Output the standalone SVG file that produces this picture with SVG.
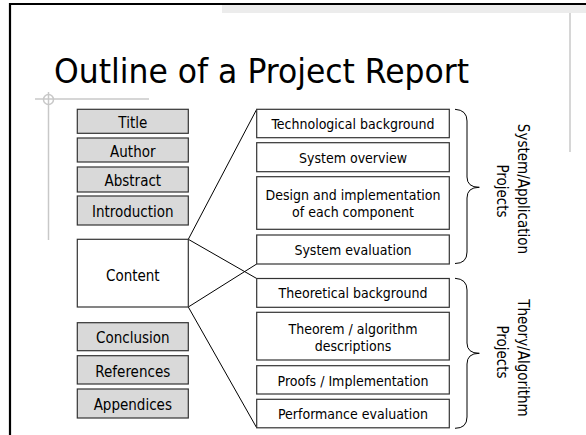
<svg xmlns="http://www.w3.org/2000/svg" width="586" height="435" viewBox="0 0 586 435">
<style>
  text { font-family: "DejaVu Sans Condensed", "DejaVu Sans", "Liberation Sans", sans-serif; fill: #000; }
  .lbl { font-size: 15px; text-anchor: middle; }
  .mid { font-size: 14px; text-anchor: middle; }
  .gray rect { fill: #d9d9d9; stroke: #333; stroke-width: 1.2; }
  .white rect { fill: #fff; stroke: #333; stroke-width: 1.2; }
  .conn line { stroke: #000; stroke-width: 1; }
  .brace { fill: none; stroke: #000; stroke-width: 1; }
  .deco { stroke: #c8c8c8; stroke-width: 1.5; fill: none; }
</style>
<rect x="0" y="0" width="586" height="435" fill="#fff"/>
<!-- slide frame and decoration -->
<rect x="222" y="4" width="364" height="9" fill="#ececec"/>
<line class="deco" x1="570" y1="13" x2="570" y2="152"/>
<line x1="10" y1="3" x2="10" y2="435" stroke="#000" stroke-width="2.2"/>
<line x1="9" y1="4" x2="586" y2="4" stroke="#000" stroke-width="2.2"/>
<line class="deco" x1="35" y1="99" x2="149" y2="99"/>
<line class="deco" x1="48.5" y1="92" x2="48.5" y2="240"/>
<circle class="deco" cx="48.5" cy="99.5" r="5"/>
<text x="54" y="83" font-size="34" textLength="415" lengthAdjust="spacingAndGlyphs">Outline of a Project Report</text>

<g id="connectors" class="conn">
  <line x1="188.3" y1="239.3" x2="256.7" y2="109.3"/>
  <line x1="188.3" y1="239.3" x2="256.7" y2="278.5"/>
  <line x1="188.3" y1="307" x2="256.7" y2="264"/>
  <line x1="188.3" y1="307" x2="256.7" y2="427.8"/>
</g>

<g id="title" class="gray"><rect x="77.3" y="109.3" width="111" height="24"/><text class="lbl" x="132.8" y="128.3">Title</text></g>
<g id="author" class="gray"><rect x="77.3" y="138" width="111" height="24"/><text class="lbl" x="132.8" y="157">Author</text></g>
<g id="abstract" class="gray"><rect x="77.3" y="167" width="111" height="25"/><text class="lbl" x="132.8" y="186">Abstract</text></g>
<g id="introduction" class="gray"><rect x="77.3" y="196" width="111" height="29"/><text class="lbl" x="132.8" y="217">Introduction</text></g>
<g id="content" class="white"><rect x="77.3" y="239.3" width="111" height="67.7"/><text class="lbl" x="132.8" y="280.5">Content</text></g>
<g id="conclusion" class="gray"><rect x="77.3" y="322.7" width="111" height="28"/><text class="lbl" x="132.8" y="343">Conclusion</text></g>
<g id="references" class="gray"><rect x="77.3" y="355.7" width="111" height="28.3"/><text class="lbl" x="132.8" y="376.5">References</text></g>
<g id="appendices" class="gray"><rect x="77.3" y="389" width="111" height="29"/><text class="lbl" x="132.8" y="410">Appendices</text></g>

<g id="tech-background" class="white"><rect x="256.7" y="109.3" width="192.6" height="28.4"/><text class="mid" x="353" y="129">Technological background</text></g>
<g id="system-overview" class="white"><rect x="256.7" y="142.7" width="192.6" height="29"/><text class="mid" x="353" y="162.5">System overview</text></g>
<g id="design" class="white"><rect x="256.7" y="176.7" width="192.6" height="52.6"/><text class="mid" x="353" y="200">Design and implementation</text><text class="mid" x="353" y="217">of each component</text></g>
<g id="system-evaluation" class="white"><rect x="256.7" y="235" width="192.6" height="29"/><text class="mid" x="353" y="254.5">System evaluation</text></g>
<g id="theoretical-background" class="white"><rect x="256.7" y="278.5" width="192.6" height="28.8"/><text class="mid" x="353" y="298.3">Theoretical background</text></g>
<g id="theorem" class="white"><rect x="256.7" y="312.3" width="192.6" height="47.7"/><text class="mid" x="353" y="334">Theorem / algorithm</text><text class="mid" x="353" y="351">descriptions</text></g>
<g id="proofs" class="white"><rect x="256.7" y="365.7" width="192.6" height="28.3"/><text class="mid" x="353" y="385.5">Proofs / Implementation</text></g>
<g id="performance" class="white"><rect x="256.7" y="399.3" width="192.6" height="28.5"/><text class="mid" x="353" y="419">Performance evaluation</text></g>

<g id="system-application-projects">
  <path class="brace" d="M455,109.3 Q467,110 467,121 L467,177 Q467,187.3 479.3,187.3 Q467,187.3 467,198 L467,252 Q467,263.5 455,263.5"/>
  <text class="lbl" transform="translate(517.5,189) rotate(90)">System/Application</text>
  <text class="lbl" transform="translate(497,191) rotate(90)">Projects</text>
</g>
<g id="theory-algorithm-projects">
  <path class="brace" d="M455,278.3 Q467,279 467,290 L467,343 Q467,353.3 479.3,353.3 Q467,353.3 467,364 L467,417 Q467,428.3 455,428.3"/>
  <text class="lbl" transform="translate(517.5,358) rotate(90)">Theory/Algorithm</text>
  <text class="lbl" transform="translate(497,352) rotate(90)">Projects</text>
</g>
</svg>
